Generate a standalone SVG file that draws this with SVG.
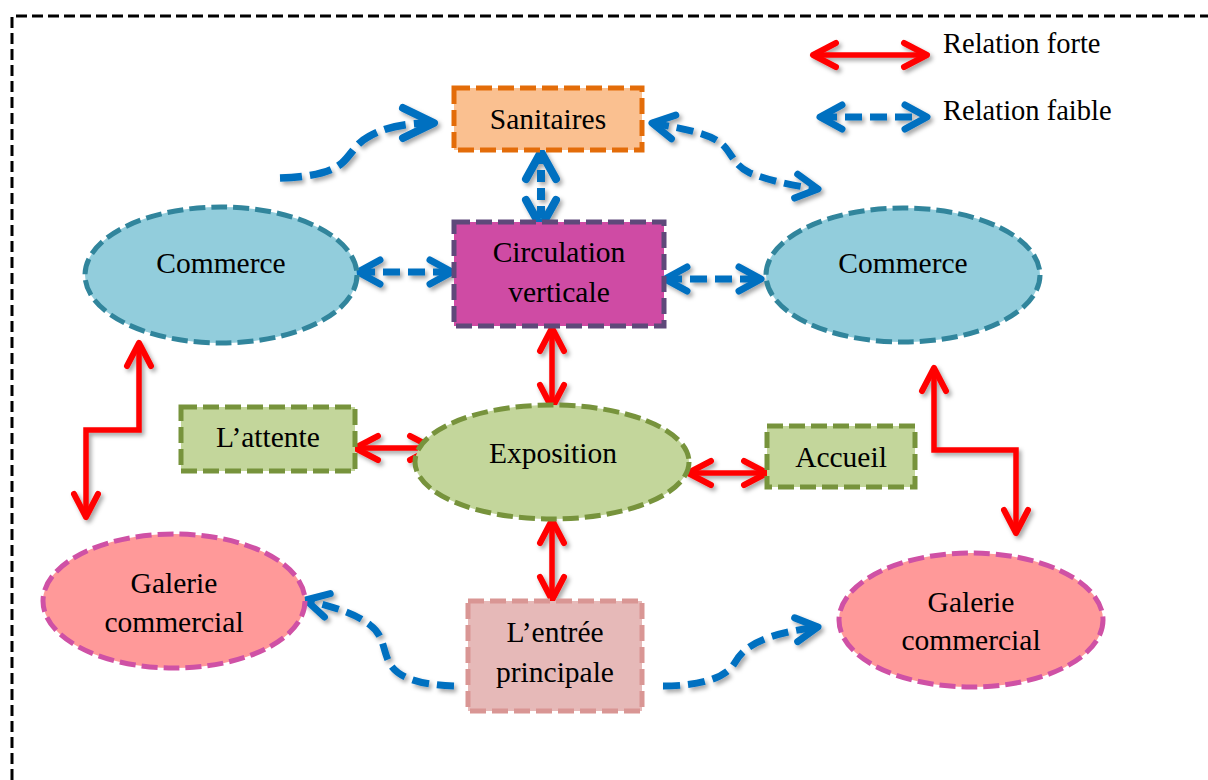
<svg xmlns="http://www.w3.org/2000/svg" width="1208" height="780" viewBox="0 0 1208 780">
<style>
  text { font-family: "Liberation Serif", "Times New Roman", serif; font-size: 29.5px; fill: #000; text-anchor: middle; }
  .leg { font-size: 28.5px; text-anchor: start; }
  .nb { stroke-width: 5; stroke-dasharray: 16 6; }
  .strong { fill: none; stroke: #FF0000; stroke-width: 5.5; stroke-linejoin: miter; marker-start: url(#ra); marker-end: url(#ra); }
  .weak { fill: none; stroke: #0070C0; stroke-width: 7; stroke-dasharray: 17 8; }
  .weak2 { marker-start: url(#ba); marker-end: url(#ba); }
  .weak1 { marker-end: url(#ba); }
</style>
<defs>
  <filter id="sh" filterUnits="userSpaceOnUse" x="0" y="0" width="1208" height="780">
    <feDropShadow dx="2.5" dy="3" stdDeviation="2" flood-color="#000" flood-opacity="0.35"/>
  </filter>
  <marker id="ra" markerUnits="userSpaceOnUse" orient="auto-start-reverse" markerWidth="1" markerHeight="1" refX="0" refY="0" overflow="visible">
    <path d="M-23,-12 L0,0 L-23,12" fill="none" stroke="#FF0000" stroke-width="6" stroke-linecap="round" stroke-linejoin="round"/>
  </marker>
  <marker id="ba" markerUnits="userSpaceOnUse" orient="auto-start-reverse" markerWidth="1" markerHeight="1" refX="0" refY="0" overflow="visible">
    <path d="M-22,-12 L0,0 L-22,12" fill="none" stroke="#0070C0" stroke-width="7" stroke-linecap="round" stroke-linejoin="round"/>
  </marker>
  <marker id="bav" markerUnits="userSpaceOnUse" orient="auto-start-reverse" markerWidth="1" markerHeight="1" refX="0" refY="0" overflow="visible">
    <path d="M-27,-15 L0,0 L-27,15" fill="none" stroke="#0070C0" stroke-width="8" stroke-linecap="round" stroke-linejoin="round"/>
  </marker>
  <marker id="bal" markerUnits="userSpaceOnUse" orient="auto" markerWidth="1" markerHeight="1" refX="0" refY="0" overflow="visible">
    <path d="M-31,-15 L0,0 L-31,15" fill="none" stroke="#0070C0" stroke-width="8" stroke-linecap="round" stroke-linejoin="round"/>
  </marker>
</defs>
<rect width="1208" height="780" fill="#FFFFFF"/>
<path d="M12,780 L12,16 L1208,16" fill="none" stroke="#000" stroke-width="3" stroke-dasharray="11 5"/>

<g id="connectors" filter="url(#sh)">
  <path class="weak" style="stroke-width:7.5;stroke-dasharray:22 8;marker-end:url(#bal)" d="M280,178 C312,177 332,172 342,163 C352,154 355,144 368,137 C385,127 405,123 434,123"/>
  <path class="weak weak2" d="M652,123 C690,130 712,134 724,146 C733,156 735,166 750,173 C770,181 795,186 818,189"/>
  <path class="weak" style="stroke-width:8;stroke-dasharray:12 6;marker-start:url(#bav);marker-end:url(#bav)" d="M541,152 L541,227"/>
  <path class="weak weak2" d="M358,272 L452,272"/>
  <path class="weak weak2" d="M665,279 L761,279"/>
  <path class="weak weak1" d="M454,686 C425,685 400,680 390,664 C382,650 385,636 370,625 C355,613 330,606 306,600"/>
  <path class="weak weak1" d="M663,686 C700,686 725,678 734,664 C742,650 755,635 818,627"/>
  <path class="strong" d="M552,328 L552,408"/>
  <path class="strong" d="M355,448 L433,448"/>
  <path class="strong" d="M688,473 L767,473"/>
  <path class="strong" d="M552,520 L552,600"/>
  <path class="strong" d="M139,343 L139,430 L86,430 L86,517"/>
  <path class="strong" d="M934,368 L934,450 L1016,450 L1016,533"/>
</g>

<g id="legend">
  <g filter="url(#sh)">
    <path class="strong" d="M813,55 L927,55"/>
    <path class="weak weak2" d="M820,117 L927,117"/>
  </g>
  <text class="leg" x="943" y="53">Relation forte</text>
  <text class="leg" x="943" y="120">Relation faible</text>
</g>

<g id="sanitaires">
  <rect class="nb" x="454" y="88" width="188" height="62" fill="#FAC090" stroke="#E36C09"/>
  <text x="548" y="129">Sanitaires</text>
</g>
<g id="circulation">
  <rect class="nb" x="454" y="222" width="210" height="104" fill="#CF4BA4" stroke="#5F497A"/>
  <text x="559" y="262">Circulation</text>
  <text x="559" y="302">verticale</text>
</g>
<g id="commerce-left">
  <ellipse class="nb" cx="221" cy="275" rx="136" ry="68" fill="#92CDDC" stroke="#31859C"/>
  <text x="221" y="273">Commerce</text>
</g>
<g id="commerce-right">
  <ellipse class="nb" cx="903" cy="275" rx="137" ry="67" fill="#92CDDC" stroke="#31859C"/>
  <text x="903" y="273">Commerce</text>
</g>
<g id="exposition">
  <ellipse class="nb" cx="552" cy="462" rx="137" ry="57" fill="#C3D69B" stroke="#77933C"/>
  <text x="553" y="463">Exposition</text>
</g>
<g id="attente">
  <rect class="nb" x="181" y="407" width="174" height="64" fill="#C3D69B" stroke="#77933C"/>
  <text x="268" y="447">L’attente</text>
</g>
<g id="accueil">
  <rect class="nb" x="767" y="426" width="148" height="61" fill="#C3D69B" stroke="#77933C"/>
  <text x="841" y="467">Accueil</text>
</g>
<g id="galerie-left">
  <ellipse class="nb" cx="174" cy="601" rx="131" ry="67" fill="#FF9999" stroke="#CF51A5"/>
  <text x="174" y="593">Galerie</text>
  <text x="174" y="632">commercial</text>
</g>
<g id="galerie-right">
  <ellipse class="nb" cx="971" cy="620" rx="132" ry="67" fill="#FF9999" stroke="#CF51A5"/>
  <text x="971" y="612">Galerie</text>
  <text x="971" y="650">commercial</text>
</g>
<g id="entree">
  <rect class="nb" x="468" y="601" width="174" height="110" fill="#E6B9B8" stroke="#D99694"/>
  <text x="555" y="642">L’entrée</text>
  <text x="555" y="682">principale</text>
</g>
</svg>
